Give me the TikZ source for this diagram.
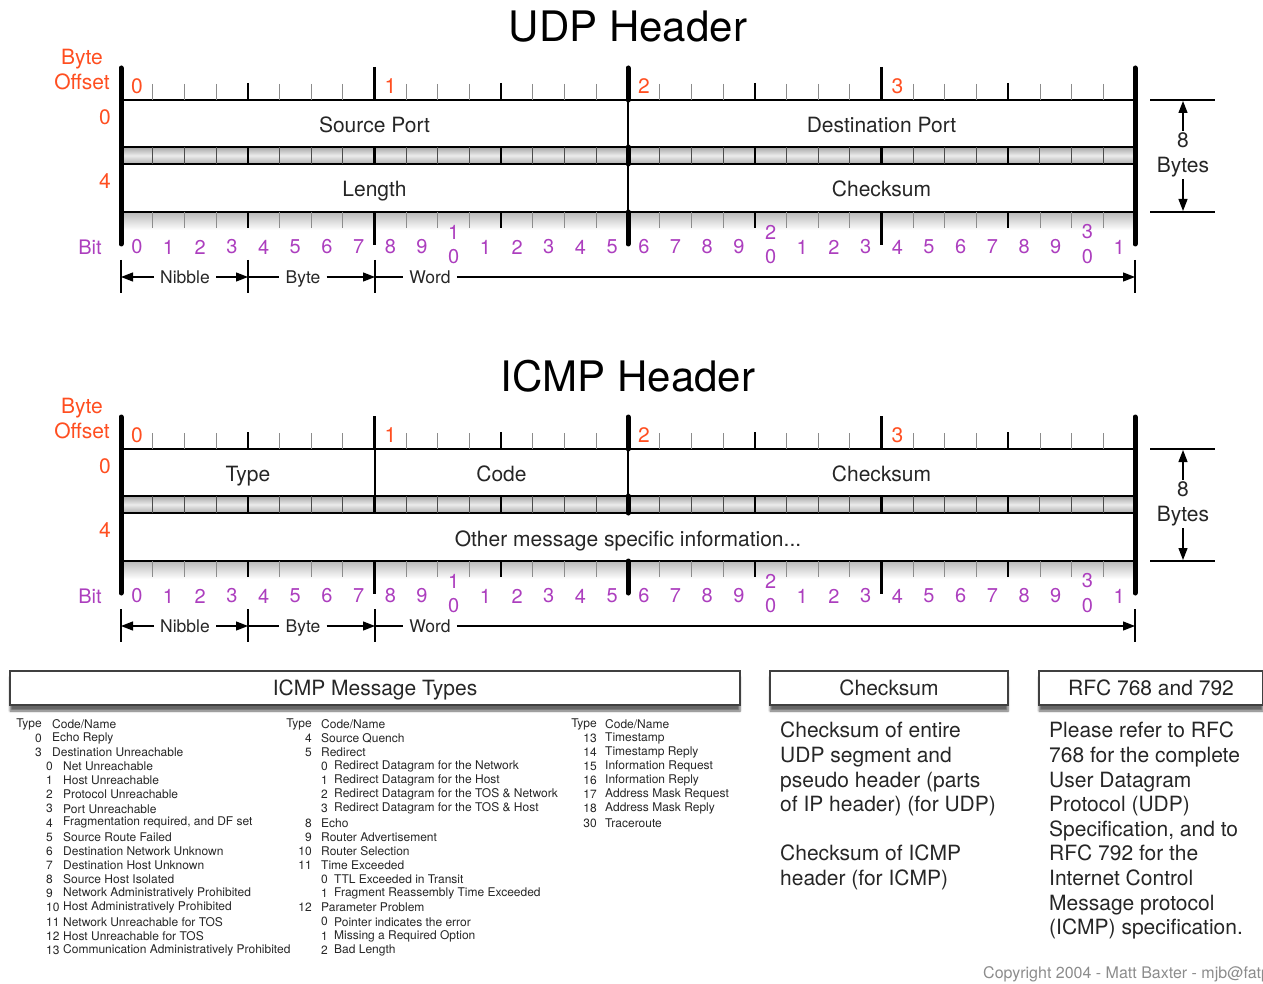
\documentclass[tikz,border=0pt]{standalone}
\usepackage{fontspec}
\setmainfont{TeX Gyre Heros}
\usetikzlibrary{arrows.meta, positioning, shadows.blur}
\definecolor{offsetred}{RGB}{255,78,32}
\definecolor{bitpurple}{RGB}{172,62,190}

\begin{document}
\begin{tikzpicture}[
    x=1pt, y=-1pt,
    every node/.style={font=\fontsize{21}{25}\selectfont, text=black!85},
    fld/.style={rectangle, draw=black, line width=1.4pt, fill=white, inner sep=0pt, text height=20pt, text depth=2pt},
    offs/.style={text=offsetred, inner sep=1pt},
    bitlbl/.style={text=bitpurple, font=\fontsize{20}{24}\selectfont, inner sep=1pt},
    unit/.style={font=\fontsize{17.5}{21}\selectfont, inner sep=6pt, text height=15.5pt, text depth=2pt},
    tbl/.style={font=\fontsize{12}{14}\selectfont, inner sep=0pt},
    mhead/.style={rectangle, draw=black!75, line width=1.5pt, fill=white, minimum height=34pt,
        text height=17pt, text depth=2pt,
        blur shadow={shadow xshift=0pt, shadow yshift=-6pt, shadow blur steps=6, shadow opacity=60}},
    para/.style={anchor=north west, align=left, inner sep=0pt, font=\fontsize{21}{24.6}\selectfont},
    bittick/.style={black!45, line width=0.9pt},
    darktick/.style={black!70, line width=1pt},
    nibtick/.style={black, line width=2.2pt},
    bar/.style={black, line width=5pt, line cap=round},
    dim/.style={black, line width=1.2pt},
    arr/.style={-{Triangle[length=12pt, width=9pt]}, line width=1.2pt}
]
\useasboundingbox (0,0) rectangle (1263,984);

% shaded strips under the rows
\foreach \oy in {0,349} {
    \shade[top color=gray!70, bottom color=gray!65, middle color=gray!15] (121,{\oy+147}) rectangle (1135,{\oy+164});
    \shade[top color=gray!55, bottom color=white] (121,{\oy+212}) rectangle (1135,{\oy+230});
}

% UDP fields
\node[fld, minimum width=507pt, minimum height=47pt] (srcport) at (374.5,123.5) {Source Port};
\node[fld, minimum width=507pt, minimum height=47pt] (dstport) at (881.5,123.5) {Destination Port};
\node[fld, minimum width=507pt, minimum height=48pt] (length) at (374.5,188) {Length};
\node[fld, minimum width=507pt, minimum height=48pt] (udpsum) at (881.5,188) {Checksum};

% ICMP fields
\node[fld, minimum width=254pt, minimum height=47pt] (type) at (248,472.5) {Type};
\node[fld, minimum width=253pt, minimum height=47pt] (code) at (501.5,472.5) {Code};
\node[fld, minimum width=507pt, minimum height=47pt] (icmpsum) at (881.5,472.5) {Checksum};
\node[fld, minimum width=1014pt, minimum height=48pt] (other) at (628,537) {Other message specific information...};

% rulers, labels and dimensions of both headers
\foreach \oy/\ttl in {0/UDP,349/ICMP} {
    \node[font=\fontsize{42}{50}\selectfont, text=black] (title\ttl) at (628,{\oy+27}) {\ttl\ Header};
    \node[offs, align=center] (byteoff\ttl) at (82,{\oy+70}) {Byte\\Offset};
    \node[offs] (offzero\ttl) at (105,{\oy+117}) {0};
    \node[offs] (offfour\ttl) at (105,{\oy+181}) {4};
    \node[bitlbl] (bitname\ttl) at (90,{\oy+247}) {Bit};
    \foreach \k in {0,...,3}
        \node[offs] (bytenum\ttl\k) at ({137+\k*253.5},{\oy+86}) {\k};

    % ticks
    \foreach \bt in {1,2,3,5,6,7,9,10,11,13,14,15,17,18,19,21,22,23,25,26,27,29,30,31} {
        \draw[bittick] ({121+\bt*31.6875},{\oy+84}) -- ++(0,16);
        \draw[darktick] ({121+\bt*31.6875},{\oy+147}) -- ++(0,17);
        \draw[bittick] ({121+\bt*31.6875},{\oy+212}) -- ++(0,16);
    }
    \foreach \bt in {4,12,20,28} {
        \draw[nibtick] ({121+\bt*31.6875},{\oy+83}) -- ++(0,17);
        \draw[nibtick] ({121+\bt*31.6875},{\oy+147}) -- ++(0,17);
        \draw[nibtick] ({121+\bt*31.6875},{\oy+212}) -- ++(0,16);
    }
    \foreach \bt in {8,24} {
        \draw[nibtick] ({121+\bt*31.6875},{\oy+67}) -- ++(0,33);
        \draw[nibtick] ({121+\bt*31.6875},{\oy+147}) -- ++(0,17);
        \draw[nibtick] ({121+\bt*31.6875},{\oy+212}) -- ++(0,33);
    }
    \draw[bar] (628,{\oy+68}) -- (628,{\oy+100});
    \draw[bar] (628,{\oy+147}) -- (628,{\oy+164});
    \draw[bar] (628,{\oy+212}) -- (628,{\oy+244});
    \draw[bar] (121,{\oy+68}) -- (121,{\oy+244});
    \draw[bar] (1135,{\oy+68}) -- (1135,{\oy+244});

    % bit numbers
    \foreach \bt in {0,...,31} {
        \pgfmathtruncatemacro\dg{mod(\bt,10)}
        \pgfmathtruncatemacro\tn{div(\bt,10)}
        \ifnum\dg=0 \ifnum\bt>0
            \node[bitlbl] (btt\ttl\bt) at ({121+(\bt+0.5)*31.6875},{\oy+232}) {\tn};
            \node[bitlbl] (bto\ttl\bt) at ({121+(\bt+0.5)*31.6875},{\oy+257}) {0};
        \else
            \node[bitlbl] (bto\ttl\bt) at ({121+(\bt+0.5)*31.6875},{\oy+247}) {0};
        \fi \else
            \node[bitlbl] (bto\ttl\bt) at ({121+(\bt+0.5)*31.6875},{\oy+247}) {\dg};
        \fi
    }

    % nibble / byte / word
    \foreach \xx in {121,248,375,1135}
        \draw[dim] (\xx,{\oy+260}) -- (\xx,{\oy+293});
    \coordinate (nl\ttl) at (121,{\oy+277});
    \coordinate (nm\ttl) at (248,{\oy+277});
    \coordinate (nr\ttl) at (375,{\oy+277});
    \coordinate (ne\ttl) at (1135,{\oy+277});
    \node[unit] (nib\ttl) at (185,{\oy+277}) {Nibble};
    \node[unit] (byte\ttl) at (303,{\oy+277}) {Byte};
    \node[unit] (word\ttl) at (430,{\oy+277}) {Word};
    \draw[arr] (nib\ttl) -- (nl\ttl);
    \draw[arr] (nib\ttl) -- (nm\ttl);
    \draw[dim] (nm\ttl) -- (byte\ttl);
    \draw[arr] (byte\ttl) -- (nr\ttl);
    \draw[dim] (nr\ttl) -- (word\ttl);
    \draw[arr] (word\ttl) -- (ne\ttl);

    % 8 bytes
    \draw[dim] (1150,{\oy+100}) -- (1215,{\oy+100});
    \draw[dim] (1150,{\oy+212}) -- (1215,{\oy+212});
    \coordinate (bt\ttl) at (1183,{\oy+101});
    \coordinate (bb\ttl) at (1183,{\oy+211});
    \node[align=center, inner sep=2pt] (eight\ttl) at (1183,{\oy+155}) {8\\Bytes};
    \draw[arr] (eight\ttl) -- (bt\ttl);
    \draw[arr] (eight\ttl) -- (bb\ttl);
}

% boxes at the bottom
\node[mhead, minimum width=730pt] (msgtypes) at (375,688) {ICMP Message Types};
\node[mhead, minimum width=238pt] (sumhead) at (889,688) {Checksum};
\node[mhead, minimum width=224pt] (rfchead) at (1151,688) {RFC 768 and 792};

% message types table
\foreach \tx/\nx/\c in {42/52/1, 312/321/2, 597/605/3} {
    \node[tbl, anchor=east] (typehd\c) at (\tx,724) {Type};
    \node[tbl, anchor=west] (namehd\c) at (\nx,724) {Code/Name};
}
\foreach \kd/\nm/\txt [count=\r] in {0/0/Echo Reply, 0/3/Destination Unreachable,
    1/0/Net Unreachable, 1/1/Host Unreachable, 1/2/Protocol Unreachable, 1/3/Port Unreachable,
    1/4/{Fragmentation required, and DF set}, 1/5/Source Route Failed,
    1/6/Destination Network Unknown, 1/7/Destination Host Unknown, 1/8/Source Host Isolated,
    1/9/Network Administratively Prohibited, 1/10/Host Administratively Prohibited,
    1/11/Network Unreachable for TOS, 1/12/Host Unreachable for TOS,
    1/13/Communication Administratively Prohibited} {
    \ifnum\kd=0
        \node[tbl, anchor=east] (tanum\r) at (42,{724+14.125*\r}) {\nm};
        \node[tbl, anchor=west] (taname\r) at (52,{724+14.125*\r}) {\txt};
    \else
        \node[tbl, anchor=west] (tanum\r) at (46,{724+14.125*\r}) {\nm};
        \node[tbl, anchor=west] (taname\r) at (63,{724+14.125*\r}) {\txt};
    \fi
}
\foreach \kd/\nm/\txt [count=\r] in {0/4/Source Quench, 0/5/Redirect,
    1/0/Redirect Datagram for the Network, 1/1/Redirect Datagram for the Host,
    1/2/Redirect Datagram for the TOS \& Network, 1/3/Redirect Datagram for the TOS \& Host,
    0/8/Echo, 0/9/Router Advertisement, 0/10/Router Selection, 0/11/Time Exceeded,
    1/0/TTL Exceeded in Transit, 1/1/Fragment Reassembly Time Exceeded,
    0/12/Parameter Problem, 1/0/Pointer indicates the error,
    1/1/Missing a Required Option, 1/2/Bad Length} {
    \ifnum\kd=0
        \node[tbl, anchor=east] (tbnum\r) at (312,{724+14.125*\r}) {\nm};
        \node[tbl, anchor=west] (tbname\r) at (321,{724+14.125*\r}) {\txt};
    \else
        \node[tbl, anchor=west] (tbnum\r) at (321,{724+14.125*\r}) {\nm};
        \node[tbl, anchor=west] (tbname\r) at (334,{724+14.125*\r}) {\txt};
    \fi
}
\foreach \nm/\txt [count=\r] in {13/Timestamp, 14/Timestamp Reply, 15/Information Request,
    16/Information Reply, 17/Address Mask Request, 18/Address Mask Reply, 30/Traceroute} {
    \node[tbl, anchor=east] (tcnum\r) at (597,{724+14.125*\r}) {\nm};
    \node[tbl, anchor=west] (tcname\r) at (605,{724+14.125*\r}) {\txt};
}

% notes
\node[para] (sumtext) at (780,722) {Checksum of entire\\UDP segment and\\pseudo header (parts\\of IP header) (for UDP)\\[24.6pt]Checksum of ICMP\\header (for ICMP)};
\node[para] (rfctext) at (1049,722) {Please refer to RFC\\768 for the complete\\User Datagram\\Protocol (UDP)\\Specification, and to\\RFC 792 for the\\Internet Control\\Message protocol\\(ICMP) specification.};

\node[anchor=west, inner sep=0pt, text=black!45, font=\fontsize{16}{19}\selectfont] (copyright) at (983,974) {Copyright 2004 - Matt Baxter - mjb@fatp};

\end{tikzpicture}
\end{document}
